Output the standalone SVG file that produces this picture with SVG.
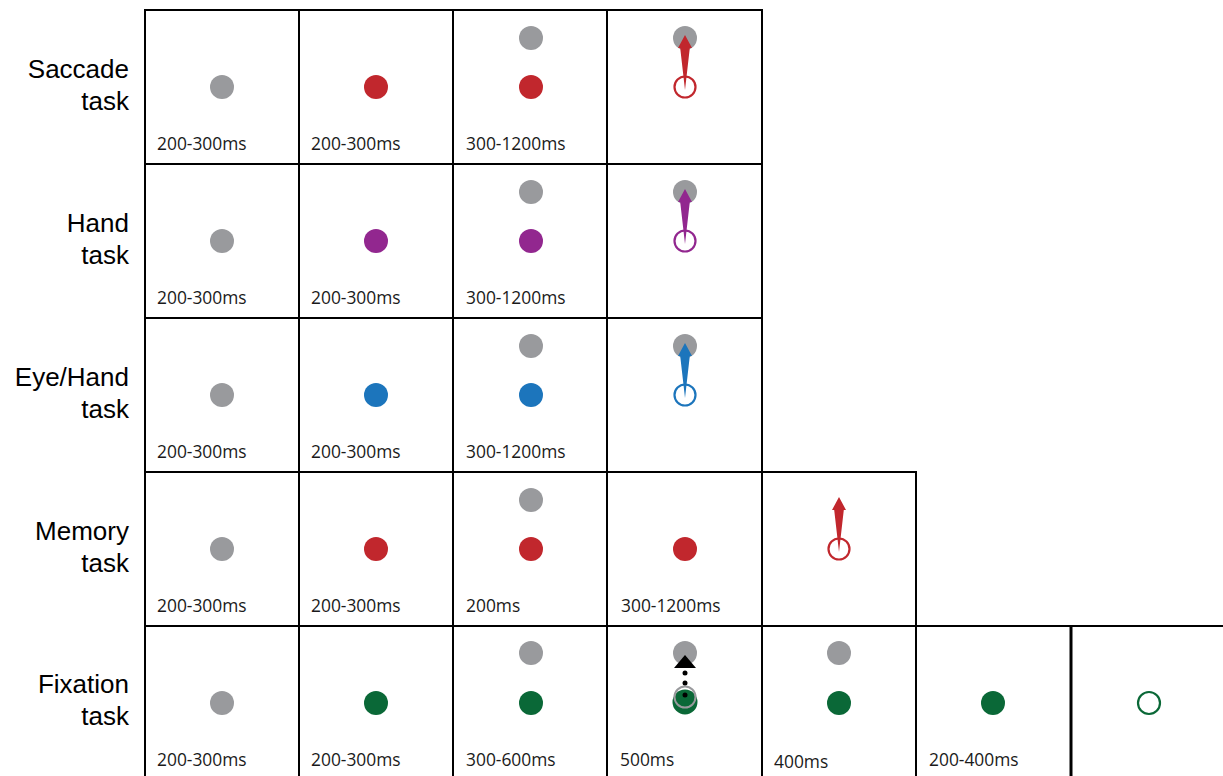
<svg xmlns="http://www.w3.org/2000/svg" width="1223" height="776" viewBox="0 0 1223 776">
<style>
.bg{fill:#ffffff}
.grid{stroke:#000;stroke-width:2;fill:none}
.thick{stroke:#000;stroke-width:3;fill:none}
.lab{font-family:"Liberation Sans",Arial,sans-serif;font-size:26px;fill:#000;text-anchor:end}
.t{font-family:"Open Sans","Noto Sans",sans-serif;font-size:17.4px;fill:#1a1a1a}
.g{fill:#999a9d}
.r{fill:#c1272d}
.p{fill:#92278f}
.b{fill:#1c75bc}
.gr{fill:#0a6837}
.or{fill:none;stroke:#c1272d;stroke-width:2.2}
.op{fill:none;stroke:#92278f;stroke-width:2.2}
.ob{fill:none;stroke:#1c75bc;stroke-width:2.2}
.og{fill:none;stroke:#0a6837;stroke-width:2.2}
</style>
<defs>
<path id="arr" d="M0,-52 L7,-39 L4.8,-39 L0,3 L-4.8,-39 L-7,-39 Z"/>
</defs>
<rect class="bg" x="0" y="0" width="1223" height="776"/>

<g id="labels">
<text class="lab" x="129" y="78">Saccade</text><text class="lab" x="129" y="110">task</text>
<text class="lab" x="129" y="232">Hand</text><text class="lab" x="129" y="264">task</text>
<text class="lab" x="129" y="386">Eye/Hand</text><text class="lab" x="129" y="418">task</text>
<text class="lab" x="129" y="540">Memory</text><text class="lab" x="129" y="572">task</text>
<text class="lab" x="129" y="693">Fixation</text><text class="lab" x="129" y="725">task</text>
</g>

<g id="grid">
<path class="grid" d="M145,10 H762 M145,164 H762 M145,318 H762 M145,472 H916 M145,626 H1223"/>
<path class="grid" d="M145,9 V776 M299,9 V776 M453,9 V776 M607,9 V776 M762,9 V776 M916,471 V776"/>
<path class="thick" d="M1071,626 V776"/>
</g>

<!-- Saccade row -->
<g id="saccade-1"><circle class="g" cx="222" cy="87" r="12"/><text class="t" x="157" y="150">200-300ms</text></g>
<g id="saccade-2"><circle class="r" cx="376" cy="87" r="12"/><text class="t" x="311" y="150">200-300ms</text></g>
<g id="saccade-3"><circle class="g" cx="531" cy="38" r="12"/><circle class="r" cx="531" cy="87" r="12"/><text class="t" x="466" y="150">300-1200ms</text></g>
<g id="saccade-4"><circle class="g" cx="685" cy="38" r="12"/><circle class="or" cx="685" cy="87" r="10.5"/><use href="#arr" x="685" y="87" class="r"/></g>

<!-- Hand row -->
<g id="hand-1"><circle class="g" cx="222" cy="241" r="12"/><text class="t" x="157" y="304">200-300ms</text></g>
<g id="hand-2"><circle class="p" cx="376" cy="241" r="12"/><text class="t" x="311" y="304">200-300ms</text></g>
<g id="hand-3"><circle class="g" cx="531" cy="192" r="12"/><circle class="p" cx="531" cy="241" r="12"/><text class="t" x="466" y="304">300-1200ms</text></g>
<g id="hand-4"><circle class="g" cx="685" cy="192" r="12"/><circle class="op" cx="685" cy="241" r="10.5"/><use href="#arr" x="685" y="241" class="p"/></g>

<!-- Eye/Hand row -->
<g id="eyehand-1"><circle class="g" cx="222" cy="395" r="12"/><text class="t" x="157" y="458">200-300ms</text></g>
<g id="eyehand-2"><circle class="b" cx="376" cy="395" r="12"/><text class="t" x="311" y="458">200-300ms</text></g>
<g id="eyehand-3"><circle class="g" cx="531" cy="346" r="12"/><circle class="b" cx="531" cy="395" r="12"/><text class="t" x="466" y="458">300-1200ms</text></g>
<g id="eyehand-4"><circle class="g" cx="685" cy="346" r="12"/><circle class="ob" cx="685" cy="395" r="10.5"/><use href="#arr" x="685" y="395" class="b"/></g>

<!-- Memory row -->
<g id="memory-1"><circle class="g" cx="222" cy="549" r="12"/><text class="t" x="157" y="612">200-300ms</text></g>
<g id="memory-2"><circle class="r" cx="376" cy="549" r="12"/><text class="t" x="311" y="612">200-300ms</text></g>
<g id="memory-3"><circle class="g" cx="531" cy="500" r="12"/><circle class="r" cx="531" cy="549" r="12"/><text class="t" x="466" y="612">200ms</text></g>
<g id="memory-4"><circle class="r" cx="685" cy="549" r="12"/><text class="t" x="621" y="612">300-1200ms</text></g>
<g id="memory-5"><circle class="or" cx="839" cy="549" r="10.5"/><use href="#arr" x="839" y="549" class="r"/></g>

<!-- Fixation row -->
<g id="fixation-1"><circle class="g" cx="222" cy="703" r="12"/><text class="t" x="157" y="766">200-300ms</text></g>
<g id="fixation-2"><circle class="gr" cx="376" cy="703" r="12"/><text class="t" x="311" y="766">200-300ms</text></g>
<g id="fixation-3"><circle class="g" cx="531" cy="653" r="12"/><circle class="gr" cx="531" cy="703" r="12"/><text class="t" x="466" y="766">300-600ms</text></g>
<g id="fixation-4">
<circle class="g" cx="685" cy="653" r="12"/>
<circle class="gr" cx="685" cy="702" r="12.5"/>
<circle cx="685" cy="697" r="10.5" fill="none" stroke="#999a9d" stroke-width="2"/>
<path d="M685,655 L696,668 L674,668 Z" fill="#000"/>
<circle cx="685" cy="673" r="2.5" fill="#000"/>
<circle cx="685" cy="683" r="2.5" fill="#000"/>
<circle cx="685" cy="695" r="2.5" fill="#000"/>
<text class="t" x="620" y="766">500ms</text>
</g>
<g id="fixation-5"><circle class="g" cx="839" cy="653" r="12"/><circle class="gr" cx="839" cy="703" r="12"/><text class="t" x="774" y="768">400ms</text></g>
<g id="fixation-6"><circle class="gr" cx="993" cy="703" r="12"/><text class="t" x="929" y="766">200-400ms</text></g>
<g id="fixation-7"><circle class="og" cx="1149" cy="703" r="11"/></g>

<g id="connectors"></g>
</svg>
